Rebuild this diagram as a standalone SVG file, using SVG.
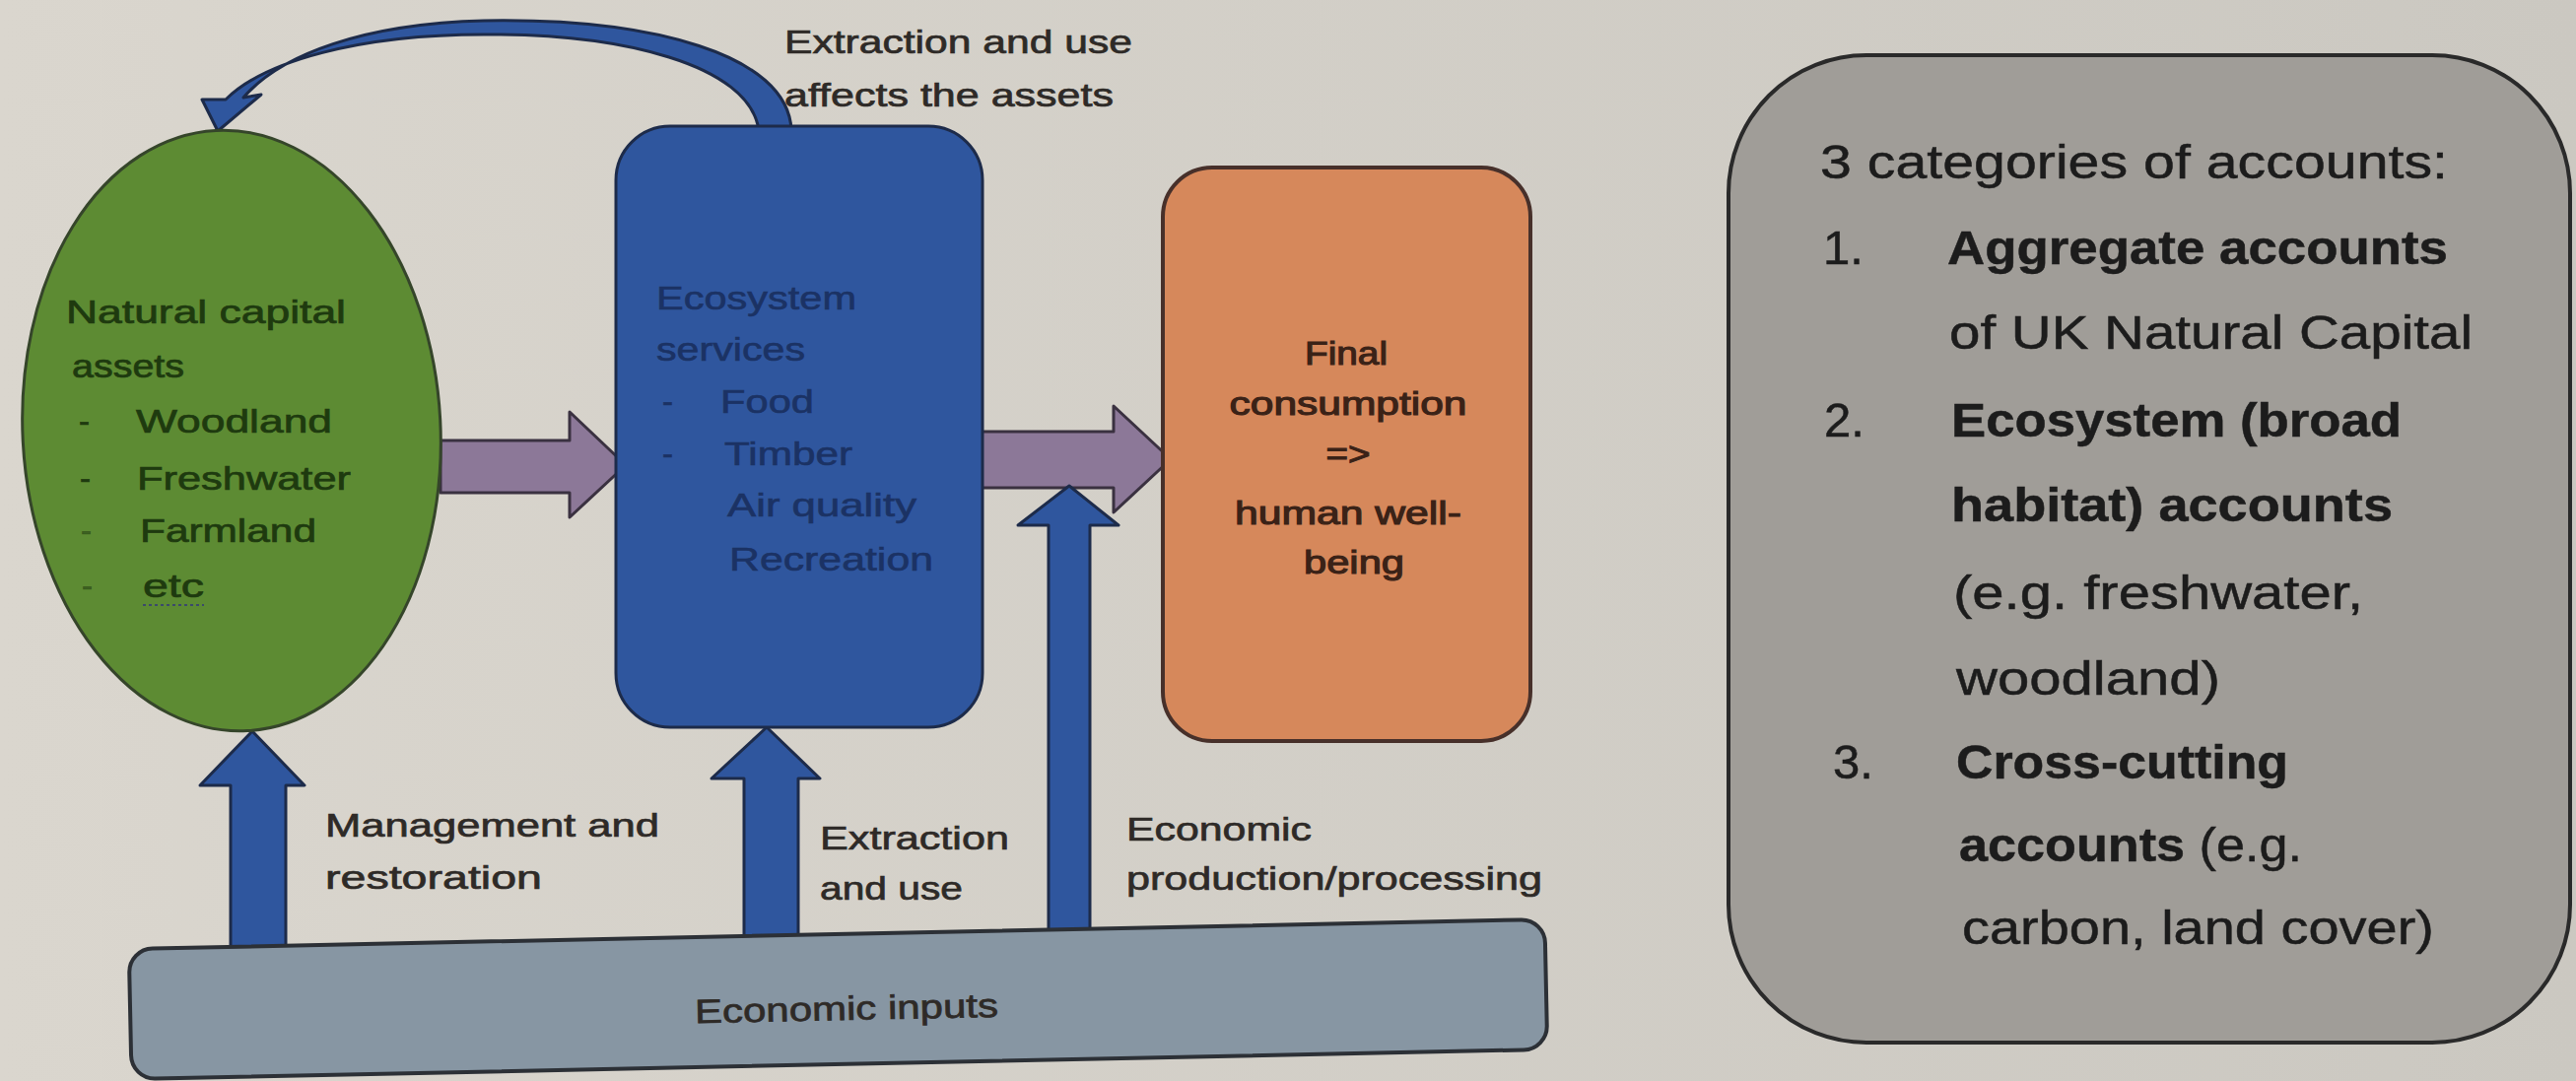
<svg xmlns="http://www.w3.org/2000/svg" width="2614" height="1097" viewBox="0 0 2614 1097">
<defs>
<linearGradient id="bg" x1="0" y1="0" x2="1" y2="0">
<stop offset="0" stop-color="#dad6ce"/>
<stop offset="1" stop-color="#cbc8c1"/>
</linearGradient>
</defs>
<style>
text{font-family:"Liberation Sans",Arial,sans-serif;}
.lbl{font-size:34px;fill:#2e2a27;stroke:#2e2a27;stroke-width:0.7;}
.green{font-size:33px;fill:#1e3a0f;stroke:#1e3a0f;stroke-width:0.7;}
.blue{font-size:33px;fill:#1b3264;stroke:#1b3264;stroke-width:0.6;}
.orange{font-size:33px;fill:#3a2217;stroke:#3a2217;stroke-width:1.1;text-anchor:middle;}
.acc{font-size:49px;fill:#1c1c1c;stroke:#1c1c1c;stroke-width:0.5;}
.b{font-weight:bold;}
.blueArrow{fill:#2f569e;stroke:#1d2b4a;stroke-width:3;stroke-linejoin:round;}
.purpleArrow{fill:#8c7898;stroke:#3a3140;stroke-width:3;stroke-linejoin:round;}
</style>
<rect x="0" y="0" width="2614" height="1097" fill="url(#bg)"/>

<g id="connectors">
  <g id="c-extraction-affects">
    <path class="blueArrow" d="M803 132 C800 55 660 18 491 21 C370 24 285 55 247 99 L265 96 L221 133 L205 101 L229 101 C268 62 365 35 491 35 C630 34 760 65 770 132 Z"/>
    <text class="lbl" x="796" y="54" textLength="353" lengthAdjust="spacingAndGlyphs">Extraction and use</text>
    <text class="lbl" x="796" y="108" textLength="334" lengthAdjust="spacingAndGlyphs">affects the assets</text>
  </g>
  <g id="c-assets-services">
    <path class="purpleArrow" d="M447 447 L578 447 L578 418 L635 472 L578 525 L578 500 L447 500 Z"/>
  </g>
  <g id="c-services-consumption">
    <path class="purpleArrow" d="M993 438 L1130 438 L1130 412 L1188 466 L1130 520 L1130 495 L993 495 Z"/>
  </g>
  <g id="c-management">
    <path class="blueArrow" d="M234 975 L234 797 L203 797 L256 742 L309 797 L290 797 L290 975 Z"/>
    <text class="lbl" x="330" y="849" textLength="339" lengthAdjust="spacingAndGlyphs">Management and</text>
    <text class="lbl" x="330" y="902" textLength="220" lengthAdjust="spacingAndGlyphs">restoration</text>
  </g>
  <g id="c-extraction">
    <path class="blueArrow" d="M755 965 L755 790 L722 790 L778 738 L832 790 L810 790 L810 965 Z"/>
    <text class="lbl" x="832" y="862" textLength="192" lengthAdjust="spacingAndGlyphs">Extraction</text>
    <text class="lbl" x="832" y="913" textLength="145" lengthAdjust="spacingAndGlyphs">and use</text>
  </g>
  <g id="c-production">
    <path class="blueArrow" d="M1064 958 L1064 533 L1033 533 L1085 493 L1135 533 L1106 533 L1106 958 Z"/>
    <text class="lbl" x="1143" y="853" textLength="188" lengthAdjust="spacingAndGlyphs">Economic</text>
    <text class="lbl" x="1143" y="903" textLength="422" lengthAdjust="spacingAndGlyphs">production/processing</text>
  </g>
</g>

<g id="n-assets">
  <ellipse cx="235" cy="437" rx="212" ry="305" transform="rotate(-3 235 437)" fill="#5d8b33" stroke="#35452a" stroke-width="3"/>
  <text class="green" x="67" y="328" textLength="284" lengthAdjust="spacingAndGlyphs">Natural capital</text>
  <text class="green" x="73" y="383" textLength="114" lengthAdjust="spacingAndGlyphs">assets</text>
  <text class="green" x="80" y="439">-</text>
  <text class="green" x="138" y="439" textLength="199" lengthAdjust="spacingAndGlyphs">Woodland</text>
  <text class="green" x="81" y="497">-</text>
  <text class="green" x="139" y="497" textLength="217" lengthAdjust="spacingAndGlyphs">Freshwater</text>
  <text class="green" x="82" y="550" fill-opacity="0.5" stroke-opacity="0.5">-</text>
  <text class="green" x="142" y="550" textLength="179" lengthAdjust="spacingAndGlyphs">Farmland</text>
  <text class="green" x="83" y="606" fill-opacity="0.5" stroke-opacity="0.5">-</text>
  <text class="green" x="145" y="606" textLength="62" lengthAdjust="spacingAndGlyphs">etc</text>
  <line x1="145" y1="614" x2="207" y2="614" stroke="#3b4a6a" stroke-width="2" stroke-dasharray="3 3"/>
</g>

<g id="n-services">
  <rect x="625" y="128" width="372" height="610" rx="55" fill="#2f569e" stroke="#1d2b4a" stroke-width="3"/>
  <text class="blue" x="666" y="314" textLength="203" lengthAdjust="spacingAndGlyphs">Ecosystem</text>
  <text class="blue" x="666" y="366" textLength="151" lengthAdjust="spacingAndGlyphs">services</text>
  <text class="blue" x="672" y="419">-</text>
  <text class="blue" x="731" y="419" textLength="95" lengthAdjust="spacingAndGlyphs">Food</text>
  <text class="blue" x="672" y="472">-</text>
  <text class="blue" x="735" y="472" textLength="130" lengthAdjust="spacingAndGlyphs">Timber</text>
  <text class="blue" x="738" y="524" textLength="192" lengthAdjust="spacingAndGlyphs">Air quality</text>
  <text class="blue" x="740" y="579" textLength="207" lengthAdjust="spacingAndGlyphs">Recreation</text>
</g>

<g id="n-consumption">
  <rect x="1180" y="170" width="373" height="582" rx="50" fill="#d6885b" stroke="#47302a" stroke-width="4"/>
  <text class="orange" x="1366" y="370" textLength="84" lengthAdjust="spacingAndGlyphs">Final</text>
  <text class="orange" x="1368" y="421" textLength="241" lengthAdjust="spacingAndGlyphs">consumption</text>
  <text class="orange" x="1368" y="472" font-size="26" textLength="45" lengthAdjust="spacingAndGlyphs">=&gt;</text>
  <text class="orange" x="1368" y="532" textLength="230" lengthAdjust="spacingAndGlyphs">human well-</text>
  <text class="orange" x="1374" y="582" textLength="102" lengthAdjust="spacingAndGlyphs">being</text>
</g>

<g id="n-inputs">
  <rect x="132" y="948" width="1437" height="132" rx="24" transform="rotate(-1.2 850 1014)" fill="#8796a3" stroke="#2c3036" stroke-width="4"/>
  <text class="lbl" x="705" y="1035" textLength="308" lengthAdjust="spacingAndGlyphs" transform="rotate(-1.2 859 1025)">Economic inputs</text>
</g>

<g id="n-accounts">
  <rect x="1754" y="56" width="854" height="1002" rx="140" fill="#a09d98" stroke="#2a2a2a" stroke-width="4"/>
  <text class="acc" x="1847" y="181" textLength="637" lengthAdjust="spacingAndGlyphs">3 categories of accounts:</text>
  <text class="acc" x="1850" y="268">1.</text>
  <text class="acc b" x="1976" y="268" textLength="508" lengthAdjust="spacingAndGlyphs">Aggregate accounts</text>
  <text class="acc" x="1978" y="354" textLength="531" lengthAdjust="spacingAndGlyphs">of UK Natural Capital</text>
  <text class="acc" x="1851" y="443">2.</text>
  <text class="acc b" x="1980" y="443" textLength="457" lengthAdjust="spacingAndGlyphs">Ecosystem (broad</text>
  <text class="acc b" x="1980" y="529" textLength="448" lengthAdjust="spacingAndGlyphs">habitat) accounts</text>
  <text class="acc" x="1982" y="618" textLength="416" lengthAdjust="spacingAndGlyphs">(e.g. freshwater,</text>
  <text class="acc" x="1985" y="705" textLength="268" lengthAdjust="spacingAndGlyphs">woodland)</text>
  <text class="acc" x="1860" y="790">3.</text>
  <text class="acc b" x="1985" y="790" textLength="337" lengthAdjust="spacingAndGlyphs">Cross-cutting</text>
  <text class="acc" x="1988" y="874" textLength="348" lengthAdjust="spacingAndGlyphs"><tspan class="b">accounts</tspan> (e.g.</text>
  <text class="acc" x="1991" y="958" textLength="479" lengthAdjust="spacingAndGlyphs">carbon, land cover)</text>
</g>
</svg>
